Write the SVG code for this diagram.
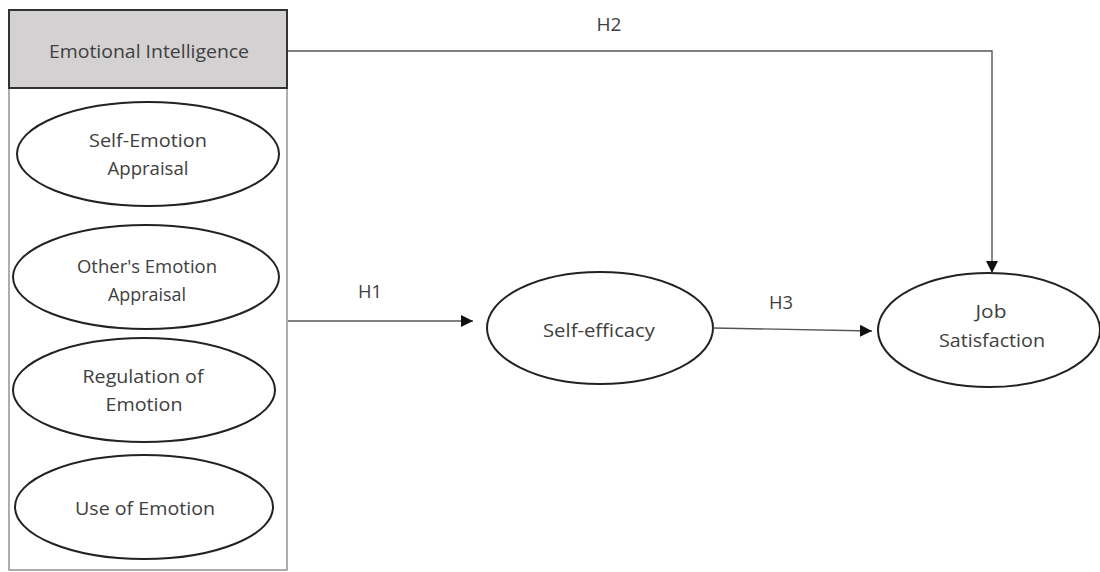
<svg xmlns="http://www.w3.org/2000/svg" width="1100" height="572" viewBox="0 0 1100 572">
<style>
.t{font-family:"Open Sans","Liberation Sans",sans-serif;font-size:18px;fill:#404040;text-anchor:middle}
.e{fill:#fff;stroke:#222;stroke-width:2}
.c{fill:none;stroke:#555;stroke-width:1.4}
</style>
<defs>
<marker id="ah" viewBox="0 0 10 10" refX="10" refY="5" markerWidth="12" markerHeight="12" markerUnits="userSpaceOnUse" orient="auto">
<path d="M0,0 L10,5 L0,10 z" fill="#111"/>
</marker>
</defs>
<rect width="1100" height="572" fill="#fff"/>
<g id="ei-panel">
<rect x="9" y="10" width="278" height="560" fill="#fff" stroke="#777" stroke-width="1.2"/>
</g>
<g id="ei-header">
<rect x="9" y="10" width="278" height="78" fill="#d3d1d1" stroke="#333" stroke-width="2"/>
<text class="t" x="149" y="58" textLength="200" lengthAdjust="spacingAndGlyphs">Emotional Intelligence</text>
</g>
<g id="self-emotion">
<ellipse class="e" cx="148" cy="154" rx="131" ry="52"/>
<text class="t" x="148" y="147" textLength="118" lengthAdjust="spacingAndGlyphs">Self-Emotion</text>
<text class="t" x="148" y="175" textLength="81" lengthAdjust="spacingAndGlyphs">Appraisal</text>
</g>
<g id="others-emotion">
<ellipse class="e" cx="146" cy="277" rx="133" ry="52"/>
<text class="t" x="147" y="273" textLength="140" lengthAdjust="spacingAndGlyphs">Other's Emotion</text>
<text class="t" x="147" y="301" textLength="78" lengthAdjust="spacingAndGlyphs">Appraisal</text>
</g>
<g id="regulation">
<ellipse class="e" cx="144" cy="390" rx="131" ry="52"/>
<text class="t" x="143" y="383" textLength="121" lengthAdjust="spacingAndGlyphs">Regulation of</text>
<text class="t" x="144" y="411" textLength="77" lengthAdjust="spacingAndGlyphs">Emotion</text>
</g>
<g id="use-emotion">
<ellipse class="e" cx="144" cy="507" rx="129" ry="52"/>
<text class="t" x="145" y="515" textLength="140" lengthAdjust="spacingAndGlyphs">Use of Emotion</text>
</g>
<g id="self-efficacy">
<ellipse class="e" cx="600" cy="328" rx="113" ry="56"/>
<text class="t" x="599" y="337" textLength="112" lengthAdjust="spacingAndGlyphs">Self-efficacy</text>
</g>
<g id="job-satisfaction">
<ellipse class="e" cx="989" cy="330" rx="111" ry="57"/>
<text class="t" x="991" y="318" textLength="31" lengthAdjust="spacingAndGlyphs">Job</text>
<text class="t" x="992" y="347" textLength="106" lengthAdjust="spacingAndGlyphs">Satisfaction</text>
</g>
<g id="connectors">
<path class="c" d="M288,51 H992 V273" marker-end="url(#ah)"/>
<path class="c" d="M288,321 H473" marker-end="url(#ah)"/>
<path class="c" d="M713,328 L872,331" marker-end="url(#ah)"/>
<text class="t" x="609" y="31" textLength="25" lengthAdjust="spacingAndGlyphs">H2</text>
<text class="t" x="370" y="298" textLength="24" lengthAdjust="spacingAndGlyphs">H1</text>
<text class="t" x="781" y="309" textLength="24" lengthAdjust="spacingAndGlyphs">H3</text>
</g>
</svg>
